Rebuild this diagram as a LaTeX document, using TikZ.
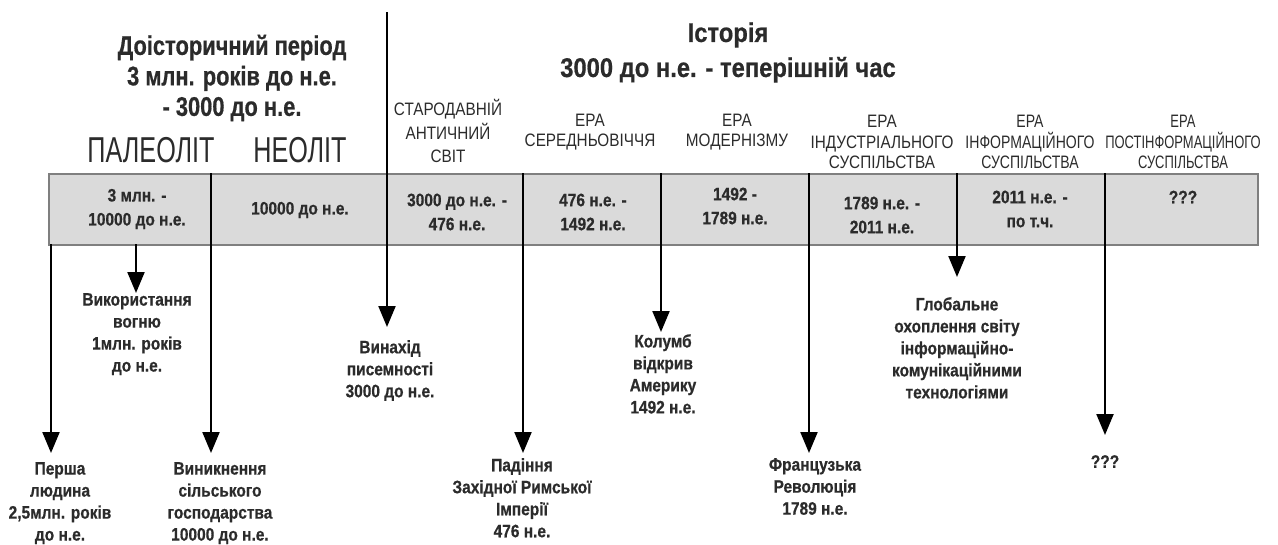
\documentclass[tikz,border=0pt]{standalone}
\usepackage{fontspec}
\setmainfont{Liberation Sans}
\newfontfamily\nb{Liberation Sans}[FakeStretch=0.86, BoldFeatures={FakeBold=0.6}]
\newfontfamily\nbh{Liberation Sans}[FakeStretch=0.88, BoldFeatures={FakeBold=0.6}]
\newfontfamily\nbt{Liberation Sans}[FakeStretch=0.81, BoldFeatures={FakeBold=0.6}]
\newfontfamily\nr{Liberation Sans}[FakeStretch=0.85]
\newfontfamily\nrf{Liberation Sans}[FakeStretch=0.78]
\newfontfamily\nrp{Liberation Sans}[FakeStretch=0.72]
\newfontfamily\nbig{Liberation Sans}[FakeStretch=0.7]
\usetikzlibrary{arrows.meta}
\definecolor{txt}{HTML}{2B2B2B}
\definecolor{bandfill}{HTML}{DADADA}
\definecolor{bandline}{HTML}{7F7F7F}
\begin{document}
\begin{tikzpicture}[x=1pt,y=-1pt,
  title/.style={font=\nbt\bfseries\fontsize{27}{30.5}\selectfont, align=center, text=txt},
  big/.style={font=\nbig\fontsize{36}{40}\selectfont, text=txt},
  era/.style={font=\nr\fontsize{18}{23.5}\selectfont, align=center, text=txt},
  eras/.style={font=\nr\fontsize{18}{20.5}\selectfont, align=center, text=txt},
  cell/.style={font=\nb\bfseries\fontsize{18}{24}\selectfont, align=center, text=txt},
  ev/.style={font=\nb\bfseries\fontsize{18}{22}\selectfont, align=center, text=txt, inner sep=0pt, anchor=north},
  arr/.style={line width=2.2pt, draw=black, -{Triangle[width=17pt,length=21pt]}},
  div/.style={line width=2.2pt, draw=black}]
\useasboundingbox (0,0) rectangle (1278,544);

% band
\node[draw=bandline, line width=1.8pt, fill=bandfill, minimum width=1209pt, minimum height=71pt,
      anchor=north west, inner sep=0pt] (band) at (48,173) {};

% headings
\node[title] (pre) at (232,78) {Доісторичний період\\3 млн. років до н.е.\\- 3000 до н.е.};
\node[big] (paleo) at (151,150) {ПАЛЕОЛІТ};
\node[big] (neo) at (300,150) {НЕОЛІТ};
\node[title, font=\nbh\bfseries\fontsize{27}{35}\selectfont] (hist) at (728,52.5) {Історія\\3000 до н.е. - теперішній час};

% era labels
\node[era] (e1) at (448,131) {СТАРОДАВНІЙ\\АНТИЧНИЙ\\СВІТ};
\node[eras] (e2) at (590,132) {ЕРА\\СЕРЕДНЬОВІЧЧЯ};
\node[eras] (e3) at (737,132) {ЕРА\\МОДЕРНІЗМУ};
\node[eras] (e4) at (882,142) {ЕРА\\ІНДУСТРІАЛЬНОГО\\СУСПІЛЬСТВА};
\node[eras, font=\nrf\fontsize{18}{20.5}\selectfont] (e5) at (1030,142) {ЕРА\\ІНФОРМАЦІЙНОГО\\СУСПІЛЬСТВА};
\node[eras, font=\nrp\fontsize{18}{20.5}\selectfont] (e6) at (1183,142) {ЕРА\\ПОСТІНФОРМАЦІЙНОГО\\СУСПІЛЬСТВА};

% band cells
\node[cell] (c1) at (137,209) {3 млн. -\\10000 до н.е.};
\node[cell] (c2) at (300,210) {10000 до н.е.};
\node[cell] (c3) at (457,212) {3000 до н.е. -\\476 н.е.};
\node[cell] (c4) at (593,212) {476 н.е. -\\1492 н.е.};
\node[cell] (c5) at (735,206) {1492 -\\1789 н.е.};
\node[cell] (c6) at (882,215) {1789 н.е. -\\2011 н.е.};
\node[cell] (c7) at (1030,209) {2011 н.е. -\\по т.ч.};
\node[cell] (c8) at (1183,197) {???};

% event labels
\node[ev] (l1) at (60,462) {Перша\\людина\\2,5млн. років\\до н.е.};
\node[ev] (l2) at (137,293) {Використання\\вогню\\1млн. років\\до н.е.};
\node[ev] (l3) at (220,462) {Виникнення\\сільського\\господарства\\10000 до н.е.};
\node[ev] (l4) at (390,340) {Винахід\\писемності\\3000 до н.е.};
\node[ev] (l5) at (522,458) {Падіння\\Західної Римської\\Імперії\\476 н.е.};
\node[ev] (l6) at (663,334) {Колумб\\відкрив\\Америку\\1492 н.е.};
\node[ev] (l7) at (815,458) {Французька\\Революція\\1789 н.е.};
\node[ev] (l8) at (957,297) {Глобальне\\охоплення світу\\інформаційно-\\комунікаційними\\технологіями};
\node[ev] (l9) at (1105,455) {???};

% start points
\coordinate (s1) at (51,244);
\coordinate (s2) at (136,244);
\coordinate (s3) at (211,173);
\coordinate (s4) at (387,12);
\coordinate (s5) at (523,173);
\coordinate (s6) at (661,173);
\coordinate (s7) at (809,173);
\coordinate (s8) at (957,173);
\coordinate (s9) at (1105,173);

% arrows
\draw[arr, shorten >=9pt] (s1) -- (s1 |- l1.north);
\draw[arr] (s2) -- (s2 |- l2.north);
\draw[arr, shorten >=9pt] (s3) -- (s3 |- l3.north);
\draw[arr, shorten >=13pt] (s4) -- (s4 |- l4.north);
\draw[arr, shorten >=5pt] (s5) -- (s5 |- l5.north);
\draw[arr, shorten >=2pt] (s6) -- (s6 |- l6.north);
\draw[arr, shorten >=5pt] (s7) -- (s7 |- l7.north);
\draw[arr, shorten >=20pt] (s8) -- (s8 |- l8.north);
\draw[arr, shorten >=20pt] (s9) -- (s9 |- l9.north);
\end{tikzpicture}
\end{document}
